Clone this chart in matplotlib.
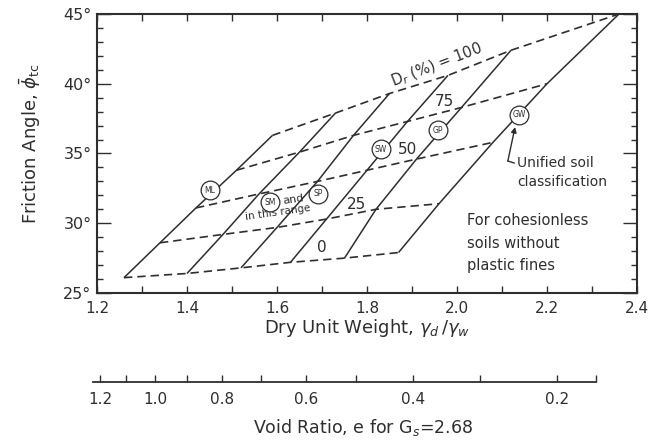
import numpy as np
import matplotlib.pyplot as plt

# relative density of each dashed contour, D_r (%)
dr_levels = [0, 25, 50, 75, 100]

# dry unit weight (gamma_d / gamma_w) and friction angle (deg) along each
# soil line, one value per relative density above
gd_ml = [1.26, 1.34, 1.42, 1.51, 1.59]
phi_ml = [26.1, 28.6, 31.1, 33.8, 36.3]
gd_sm = [1.40, 1.48, 1.56, 1.65, 1.73]
phi_sm = [26.4, 29.2, 32.1, 35.1, 37.9]
gd_sp = [1.52, 1.60, 1.69, 1.77, 1.85]
phi_sp = [26.8, 29.7, 33.0, 36.3, 39.3]
gd_sw = [1.63, 1.71, 1.80, 1.89, 1.98]
phi_sw = [27.2, 30.3, 33.8, 37.3, 40.6]
gd_gp = [1.75, 1.82, 1.91, 2.01, 2.12]
phi_gp = [27.5, 31.0, 34.6, 38.3, 42.4]
gd_gw = [1.87, 1.96, 2.08, 2.20, 2.36]
phi_gw = [27.9, 31.4, 35.8, 40.0, 45.0]

soil_names = ['ML', 'SM', 'SP', 'SW', 'GP', 'GW']

x_ticks = [1.2, 1.4, 1.6, 1.8, 2.0, 2.2, 2.4]
x_tick_labels = ['1.2', '1.4', '1.6', '1.8', '2.0', '2.2', '2.4']
y_ticks = [25, 30, 35, 40, 45]
y_tick_labels = ['25°', '30°', '35°', '40°', '45°']

# void ratio scale: gamma_d / gamma_w = Gs / (1 + e)
Gs = 2.68
e_major = [1.2, 1.0, 0.8, 0.6, 0.4, 0.2]
e_major_labels = ['1.2', '1.0', '0.8', '0.6', '0.4', '0.2']
e_minor = [1.1, 0.9, 0.7, 0.5, 0.3]
e_ends = [1.23, 0.155]

ink = '#2e2e2e'
plt.rcParams['font.family'] = ['DejaVu Sans']
plt.rcParams['mathtext.fontset'] = 'dejavusans'

gd_all = [gd_ml, gd_sm, gd_sp, gd_sw, gd_gp, gd_gw]
phi_all = [phi_ml, phi_sm, phi_sp, phi_sw, phi_gp, phi_gw]

fig = plt.figure(figsize=(6.6, 4.42), dpi=100)
ax = fig.add_axes([97 / 660, 1 - 293 / 442, 540 / 660, 279 / 442])
ax.set_xlim(1.2, 2.4)
ax.set_ylim(25, 45)

# solid soil lines
for gd, phi in zip(gd_all, phi_all):
    ax.plot(gd, phi, '-', color=ink, lw=1.1, solid_capstyle='butt')

# dashed relative density contours across the soil lines
for j in range(len(dr_levels)):
    xs = [g[j] for g in gd_all]
    ys = [p[j] for p in phi_all]
    ax.plot(xs, ys, color=ink, lw=1.2, dashes=(5.0, 3.0))

# unified soil classification symbols
circle_pos = [(1.451, 32.38), (1.584, 31.50), (1.691, 32.10),
              (1.831, 35.32), (1.958, 36.68), (2.138, 37.76)]
for name, (cx, cy) in zip(soil_names, circle_pos):
    ax.plot(cx, cy, 'o', ms=13.5, mfc='white', mec=ink, mew=0.9, zorder=4)
    ax.text(cx, cy, name, fontsize=5.5, ha='center', va='center',
            color=ink, zorder=5)

ax.text(1.637, 31.72, 'and', fontsize=8, ha='center', va='center',
        rotation=8, color=ink)
ax.text(1.603, 30.75, 'in this range', fontsize=7.5, ha='center',
        va='center', rotation=8, color=ink)

# relative density labels
ax.text(1.956, 41.34, r'D$_r$ (%) = 100', fontsize=10.5, ha='center',
        va='center', rotation=21, color=ink)
ax.text(1.973, 38.76, '75', fontsize=11, ha='center', va='center', color=ink)
ax.text(1.889, 35.32, '50', fontsize=11, ha='center', va='center', color=ink)
ax.text(1.776, 31.31, '25', fontsize=11, ha='center', va='center', color=ink)
ax.text(1.700, 28.23, '0', fontsize=11, ha='center', va='center', color=ink)

# leader from the GW symbol to its note
ax.plot([2.113, 2.127], [34.46, 34.32], color=ink, lw=1)
ax.annotate('', xy=(2.129, 36.9), xytext=(2.113, 34.46),
            arrowprops=dict(arrowstyle='-|>', color=ink, lw=1,
                            mutation_scale=8, shrinkA=0, shrinkB=0))
ax.text(2.134, 34.32, 'Unified soil', fontsize=10, ha='left', va='center',
        color=ink)
ax.text(2.134, 32.96, 'classification', fontsize=10, ha='left',
        va='center', color=ink)
ax.text(2.022, 28.58, 'For cohesionless\nsoils without\nplastic fines',
        fontsize=10.5, ha='left', va='center', linespacing=1.6, color=ink)

# axes styling
for sp in ax.spines.values():
    sp.set_linewidth(1.5)
    sp.set_color(ink)
ax.set_xticks(x_ticks)
ax.set_xticklabels(x_tick_labels)
ax.set_xticks(np.arange(1.3, 2.4, 0.2), minor=True)
ax.set_yticks(y_ticks)
ax.set_yticklabels(y_tick_labels)
ax.set_yticks(np.arange(25, 46, 1), minor=True)
ax.tick_params(axis='x', which='both', direction='in', top=True, length=5,
               width=1, color=ink, labelsize=11, labelcolor=ink, pad=6)
ax.tick_params(axis='y', which='major', direction='in', right=True,
               length=10, width=1, color=ink, labelsize=11.5, labelcolor=ink,
               pad=4)
ax.tick_params(axis='y', which='minor', direction='in', right=True,
               length=4.5, width=1, color=ink)

ax.set_xlabel(r'Dry Unit Weight, $\gamma_d\,/\gamma_w$', fontsize=13,
              color=ink)
ax.xaxis.set_label_coords(0.5, -0.085)
ax.set_ylabel(r'Friction Angle, $\bar{\phi}_{\rm tc}$', fontsize=13,
              color=ink)
ax.yaxis.set_label_coords(-0.1, 0.534)

# void ratio scale below the main axes
vax = fig.add_axes([92 / 660, 1 - 382 / 442, 540 / 660, 0.001])
vax.set_xlim(1.2, 2.4)
vax.patch.set_alpha(0)
for side in ['left', 'right', 'top']:
    vax.spines[side].set_visible(False)
vax.spines['bottom'].set_linewidth(1.3)
vax.spines['bottom'].set_color(ink)
vax.spines['bottom'].set_bounds(Gs / (1 + e_ends[0]), Gs / (1 + e_ends[1]))
vax.set_yticks([])
vax.set_xticks([Gs / (1 + e) for e in e_major])
vax.set_xticklabels(e_major_labels)
vax.set_xticks([Gs / (1 + e) for e in e_minor + e_ends[1:]], minor=True)
vax.tick_params(axis='x', which='both', direction='in', length=5, width=1,
                color=ink, labelsize=11, labelcolor=ink, pad=7)
fig.text(363 / 660, 1 - 428 / 442, r'Void Ratio, e for G$_s$=2.68',
         fontsize=12.5, ha='center', va='center', color=ink)

fig.savefig('out.png', dpi=100, facecolor='white')
